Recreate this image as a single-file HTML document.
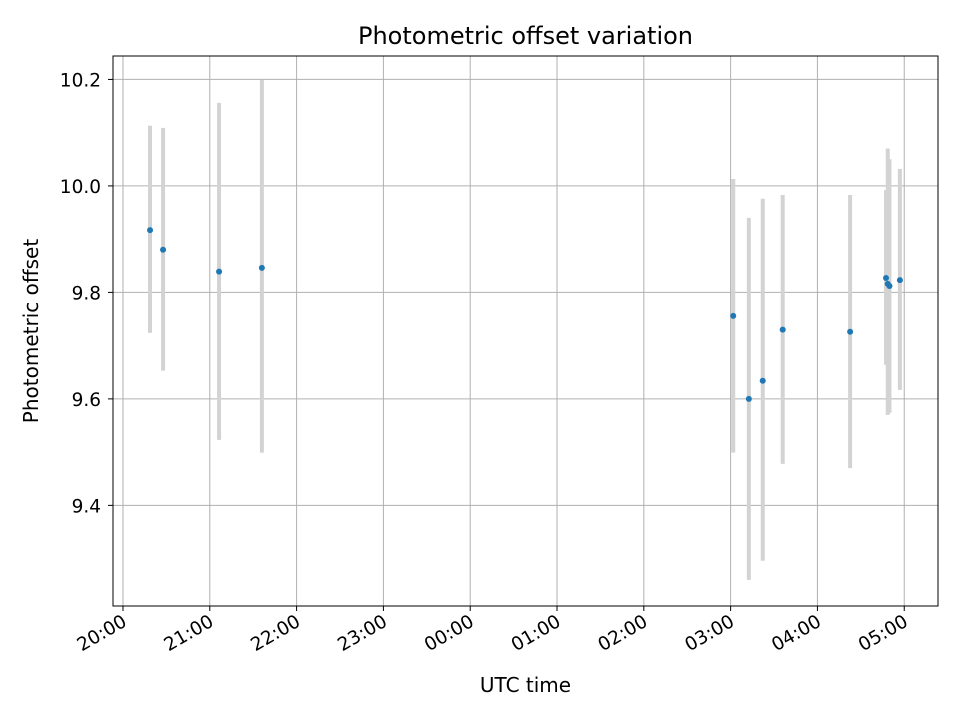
<!DOCTYPE html>
<html><head><meta charset="utf-8"><style>
body{margin:0;background:#fff;font-family:"Liberation Sans","DejaVu Sans",sans-serif}
svg text{font-family:"DejaVu Sans","Liberation Sans",sans-serif}
</style></head><body>
<svg id="chart" width="960" height="720"></svg>
<script>
const times = ["20:18.7","20:27.7","21:06.4","21:36.0","03:01.8","03:12.6","03:22.2","03:36.0","04:22.6","04:47.4","04:48.6","04:49.8","04:57.0"];
const values = [9.917,9.880,9.839,9.846,9.756,9.600,9.634,9.730,9.726,9.827,9.816,9.812,9.823];
const lows = [9.724,9.653,9.523,9.499,9.499,9.26,9.296,9.478,9.470,9.664,9.57,9.574,9.617];
const highs = [10.113,10.109,10.156,10.199,10.013,9.94,9.976,9.983,9.983,9.992,10.07,10.05,10.032];
const yTicks = [9.4,9.6,9.8,10.0,10.2];
const yTickLabels = ["9.4","9.6","9.8","10.0","10.2"];
const xTickLabels = ["20:00","21:00","22:00","23:00","00:00","01:00","02:00","03:00","04:00","05:00"];

const L=113,R=938,T=56,B=606;
const xMin=-0.115,xMax=9.389,yMin=9.211,yMax=10.244;
const xs=h=>L+(h-xMin)/(xMax-xMin)*(R-L);
const ys=v=>B-(v-yMin)/(yMax-yMin)*(B-T);
function toH(t){const [hh,mm]=t.split(':').map(Number);let h=hh+mm/60-20;if(h<0)h+=24;return h;}
const svg=document.getElementById('chart');const NS='http://www.w3.org/2000/svg';
function el(tag,attrs,parent){const e=document.createElementNS(NS,tag);for(const k in attrs)e.setAttribute(k,attrs[k]);(parent||svg).appendChild(e);return e;}

const grid=el('g',{});


xTickLabels.forEach((lab,i)=>{
  const x=xs(i);
  const g=el('line',{x1:x,x2:x,y1:T,y2:B,stroke:'#b0b0b0','stroke-width':1},grid);
  
  
  const tk=el('line',{x1:x,x2:x,y1:B,y2:B+5,stroke:'#000','stroke-width':1});
  
  
  const t=el('text',{x:0,y:0,'font-size':18.5,'text-anchor':'end',transform:`translate(${x+5},${B+19}) rotate(-30)`});
  t.textContent=lab;
  
  
});
yTicks.forEach((v,i)=>{
  const y=ys(v);
  const g=el('line',{x1:L,x2:R,y1:y,y2:y,stroke:'#b0b0b0','stroke-width':1},grid);
  
  
  const tk=el('line',{x1:L-5,x2:L,y1:y,y2:y,stroke:'#000','stroke-width':1});
  
  
  const t=el('text',{x:L-12,y:y+7,'font-size':18.5,'text-anchor':'end'});
  t.textContent=yTickLabels[i];
  
  
});
times.forEach((tm,i)=>{
  const x=xs(toH(tm));
  const e=el('line',{x1:x,x2:x,y1:ys(highs[i]),y2:ys(lows[i]),stroke:'#d3d3d3','stroke-width':4});
  
  
});
times.forEach((tm,i)=>{
  const c=el('circle',{cx:xs(toH(tm)),cy:ys(values[i]),r:3,fill:'#1f77b4'});
  
  
});
const frame=el('rect',{x:L,y:T,width:R-L,height:B-T,fill:'none',stroke:'#000','stroke-width':1});


const title=el('text',{x:(L+R)/2,y:44,'font-size':24,'text-anchor':'middle'});
title.textContent='Photometric offset variation';


const xt=el('text',{x:(L+R)/2,y:692,'font-size':20,'text-anchor':'middle'});
xt.textContent='UTC time';


const yt=el('text',{x:0,y:0,'font-size':20,'text-anchor':'middle',transform:`translate(38,${(T+B)/2}) rotate(-90)`});
yt.textContent='Photometric offset';


</script>
</body></html>
